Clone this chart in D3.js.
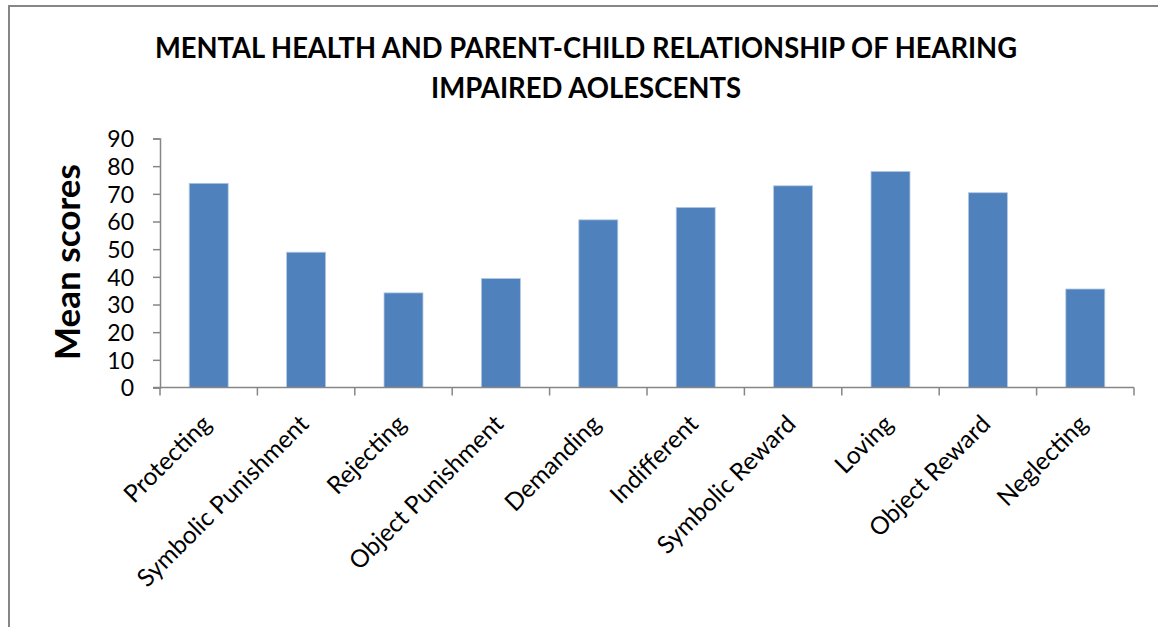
<!DOCTYPE html>
<html>
<head>
<meta charset="utf-8">
<script src="https://cdn.jsdelivr.net/npm/d3@7"></script>
<style>
  html, body { margin: 0; padding: 0; background: #fff; }
  svg { display: block; }
  text { font-family: Lato, "Open Sans", sans-serif; fill: #000; }
</style>
</head>
<body>
<svg id="chart" width="1158" height="627"></svg>
<script>
const categories = ["Protecting", "Symbolic Punishment", "Rejecting", "Object Punishment", "Demanding",
                    "Indifferent", "Symbolic Reward", "Loving", "Object Reward", "Neglecting"];
const meanScores = [73.8, 48.9, 34.2, 39.4, 60.6, 65.1, 72.9, 78.1, 70.4, 35.6];
const yTicks = [0, 10, 20, 30, 40, 50, 60, 70, 80, 90];
const titleLines = ["MENTAL HEALTH AND PARENT-CHILD RELATIONSHIP OF HEARING", "IMPAIRED AOLESCENTS"];
const yTitle = "Mean scores";

const svg = d3.select("#chart");
const W = 1158, H = 627;
const axisColor = "#868686";

// outer chart border (left and top visible)
svg.append("path")
  .attr("d", `M9,${H} L9,6 L${W},6`)
  .attr("fill", "none").attr("stroke", axisColor).attr("stroke-width", 2);

const plot = { left: 160, right: 1134, top: 138.5, bottom: 387.5 };

const x = d3.scaleBand().domain(categories).range([plot.left, plot.right]).padding(0);
const y = d3.scaleLinear().domain([0, 90]).range([plot.bottom, plot.top]);

// bars
const barFrac = 0.4;
svg.append("g").selectAll("rect").data(categories).join("rect")
  .attr("x", d => x(d) + x.bandwidth() * (1 - barFrac) / 2)
  .attr("width", x.bandwidth() * barFrac)
  .attr("y", (d, i) => y(meanScores[i]))
  .attr("height", (d, i) => y(0) - y(meanScores[i]))
  .attr("fill", "#4F81BD")
  .attr("stroke", "#b3c8e3").attr("stroke-width", 0.8);

// y axis
const yAxis = svg.append("g").attr("transform", `translate(${plot.left},0)`)
  .call(d3.axisLeft(y).tickValues(yTicks).tickSize(7).tickPadding(19).tickFormat(d3.format("d")));
yAxis.select(".domain").attr("stroke", axisColor).attr("stroke-width", 1.5);
yAxis.selectAll(".tick line").attr("stroke", axisColor).attr("stroke-width", 1.5);
yAxis.selectAll(".tick text").attr("font-size", 23).attr("fill", "#000")
  .attr("font-family", "Lato, sans-serif").attr("dy", "0.36em");

// x axis (ticks on band boundaries)
const xAxisG = svg.append("g").attr("transform", `translate(0,${plot.bottom})`);
xAxisG.append("line").attr("x1", plot.left - 7).attr("x2", plot.right)
  .attr("stroke", axisColor).attr("stroke-width", 1.5);
const boundaries = categories.map(c => x(c)).concat([x(categories[categories.length - 1]) + x.bandwidth()]);
xAxisG.selectAll("line.tk").data(boundaries).join("line").attr("class", "tk")
  .attr("x1", d => d).attr("x2", d => d).attr("y1", 0).attr("y2", 8)
  .attr("stroke", axisColor).attr("stroke-width", 1.5);

// x labels rotated
svg.append("g").selectAll("text").data(categories).join("text")
  .attr("transform", d => `translate(${x(d) + x.bandwidth() / 2 + 4},${plot.bottom + 38}) rotate(-45)`)
  .attr("text-anchor", "end")
  .attr("font-size", 24.5)
  .text(d => d);

// title
svg.append("g").selectAll("text").data(titleLines).join("text")
  .attr("x", 586).attr("y", (d, i) => 58 + i * 40)
  .attr("text-anchor", "middle")
  .attr("font-size", 29).attr("font-weight", "bold")
  .attr("textLength", (d, i) => i === 0 ? 862 : 310)
  .attr("lengthAdjust", "spacingAndGlyphs")
  .text(d => d);

// y axis title
svg.append("text")
  .attr("transform", `translate(80,262) rotate(-90)`)
  .attr("text-anchor", "middle")
  .attr("font-size", 35).attr("font-weight", "bold")
  .text(yTitle);
</script>
</body>
</html>
